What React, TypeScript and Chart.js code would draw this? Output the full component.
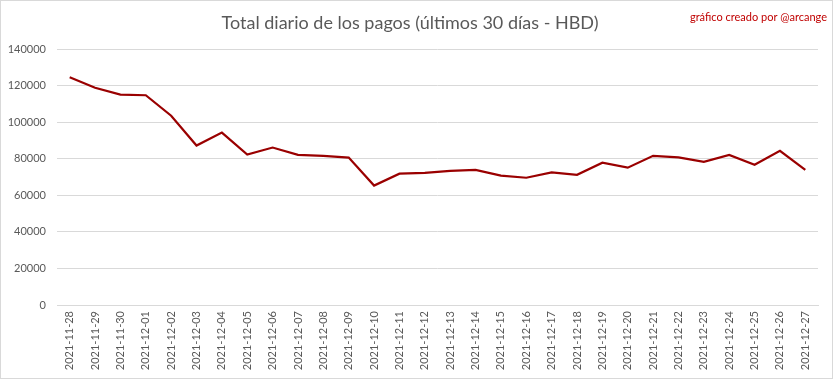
import React, { useEffect, useRef } from "react";
import { Chart, registerables } from "chart.js";

Chart.register(...registerables);

const categories = [
  "2021-11-28", "2021-11-29", "2021-11-30", "2021-12-01", "2021-12-02", "2021-12-03",
  "2021-12-04", "2021-12-05", "2021-12-06", "2021-12-07", "2021-12-08", "2021-12-09",
  "2021-12-10", "2021-12-11", "2021-12-12", "2021-12-13", "2021-12-14", "2021-12-15",
  "2021-12-16", "2021-12-17", "2021-12-18", "2021-12-19", "2021-12-20", "2021-12-21",
  "2021-12-22", "2021-12-23", "2021-12-24", "2021-12-25", "2021-12-26", "2021-12-27",
];

const payments = [
  124500, 118800, 115100, 114700, 103500, 87200,
  94300, 82300, 86100, 82100, 81500, 80600,
  65300, 71800, 72300, 73400, 73900, 70800,
  69600, 72500, 71200, 77800, 75100, 81600,
  80700, 78300, 82100, 76700, 84300, 73900,
];

const yTicks = [0, 20000, 40000, 60000, 80000, 100000, 120000, 140000];

const titleText = "Total diario de los pagos (últimos 30 días - HBD)";
const creditText = "gráfico creado por @arcange";

const FONT = "Lato, 'Open Sans', sans-serif";

const decorPlugin = {
  id: "decor",
  beforeDraw(chart: any) {
    const { ctx, width, height } = chart;
    ctx.save();
    ctx.fillStyle = "#ffffff";
    ctx.fillRect(0, 0, width, height);
    ctx.strokeStyle = "#d9d9d9";
    ctx.lineWidth = 1;
    ctx.strokeRect(0.5, 0.5, width - 1, height - 1);
    ctx.restore();
  },
  afterDraw(chart: any) {
    const { ctx, width } = chart;
    ctx.save();
    ctx.fillStyle = "#595959";
    ctx.font = `18px ${FONT}`;
    ctx.textAlign = "center";
    ctx.textBaseline = "middle";
    ctx.fillText(titleText, 410, 23);
    ctx.fillStyle = "#c00000";
    ctx.font = `11px ${FONT}`;
    ctx.textAlign = "right";
    ctx.fillText(creditText, width - 6, 17);
    ctx.restore();
  },
};

export default function App() {
  const ref = useRef<HTMLCanvasElement>(null);

  useEffect(() => {
    document.body.style.margin = "0";
    const chart = new Chart(ref.current!, {
      type: "line",
      data: {
        labels: categories,
        datasets: [
          {
            data: payments,
            borderColor: "#9a0000",
            borderWidth: 2.2,
            pointRadius: 0,
            tension: 0,
            fill: false,
          },
        ],
      },
      options: {
        animation: false,
        responsive: false,
        layout: { padding: { top: 49, right: 15, left: 0, bottom: 0 } },
        plugins: {
          legend: { display: false },
          title: { display: false },
          tooltip: { enabled: false },
        },
        scales: {
          x: {
            offset: true,
            grid: { display: false, drawTicks: false },
            border: { display: true, color: "#d9d9d9", width: 1 },
            ticks: {
              minRotation: 90,
              maxRotation: 90,
              autoSkip: false,
              padding: 6,
              color: "#595959",
              font: { family: FONT, size: 11 },
            },
            afterFit(scale: any) {
              scale.height = 74;
            },
          },
          y: {
            min: 0,
            max: 140000,
            afterBuildTicks(scale: any) {
              scale.ticks = yTicks.map((v) => ({ value: v }));
            },
            grid: { color: "#d9d9d9", lineWidth: 1, drawTicks: false },
            border: { display: false },
            ticks: {
              padding: 11,
              color: "#595959",
              font: { family: FONT, size: 11 },
              callback: (v: any) => String(v),
            },
            afterFit(scale: any) {
              scale.width = 57;
            },
          },
        },
      },
      plugins: [decorPlugin],
    });
    return () => chart.destroy();
  }, []);

  return (
    <div style={{ position: "absolute", left: 0, top: 0, width: 833, height: 379 }}>
      <canvas ref={ref} width={833} height={379} />
    </div>
  );
}
